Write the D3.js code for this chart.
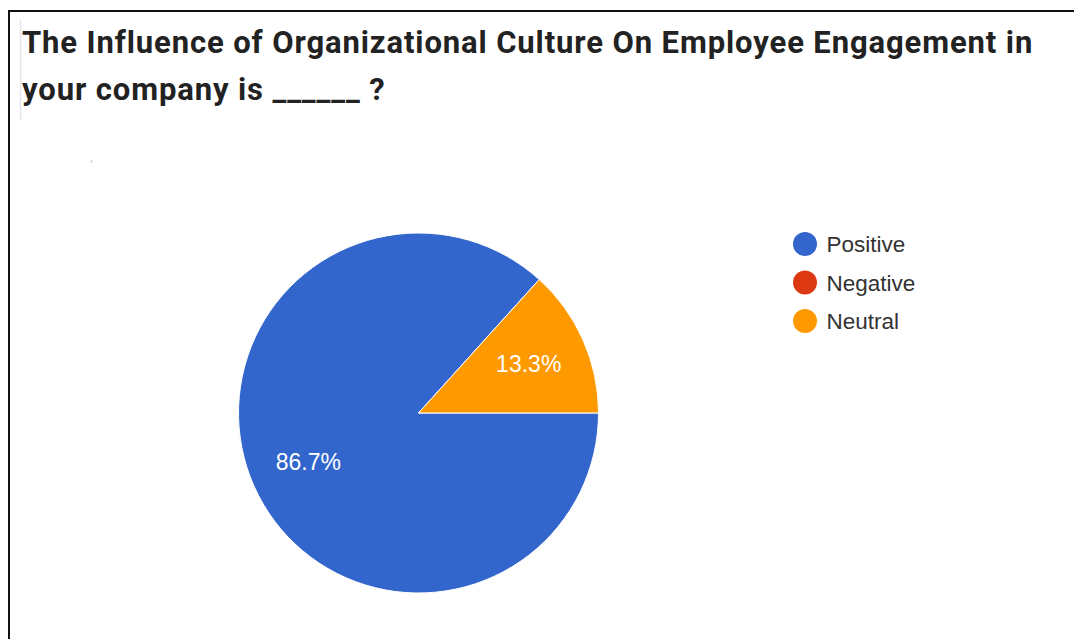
<!DOCTYPE html>
<html>
<head>
<meta charset="utf-8">
<script src="https://cdn.jsdelivr.net/npm/d3@7"></script>
<style>
  html, body { margin: 0; padding: 0; background: #fff; }
  svg { display: block; }
</style>
</head>
<body>
<svg id="chart" width="1074" height="639"></svg>
<script>
// Survey responses
const categories = ["Positive", "Negative", "Neutral"];
const shares = [86.7, 0, 13.3];
const sliceLabels = ["86.7%", "", "13.3%"];
const colors = ["#3366cc", "#dc3912", "#ff9900"];
const titleLines = [
  "The Influence of Organizational Culture On Employee Engagement in",
  "your company is ______ ?"
];

const svg = d3.select("#chart");

// Frame: heavy rule along the top and left edge
svg.append("line").attr("x1", 8).attr("x2", 1074).attr("y1", 11).attr("y2", 11)
  .attr("stroke", "#111").attr("stroke-width", 2);
svg.append("line").attr("x1", 9).attr("x2", 9).attr("y1", 10).attr("y2", 639)
  .attr("stroke", "#111").attr("stroke-width", 2);
// faint caret line beside the title
svg.append("line").attr("x1", 20.5).attr("x2", 20.5).attr("y1", 20).attr("y2", 120)
  .attr("stroke", "#e4e6ee").attr("stroke-width", 1.5);
// tiny speck below the title
svg.append("circle").attr("cx", 91.5).attr("cy", 161.5).attr("r", 1.3)
  .attr("fill", "#d8d8d8");

// Title
const titleText = svg.append("g").selectAll("text").data(titleLines).join("text")
  .attr("x", 22)
  .attr("y", (d, i) => 53 + i * 47)
  .attr("font-family", "Roboto, 'Noto Sans', sans-serif")
  .attr("font-weight", "bold")
  .attr("font-size", 31)
  .attr("fill", "#222")
  .text(d => d);
// spread the first line so it runs to the right-hand margin
const firstWidth = titleText.node().getComputedTextLength();
const spacing = (1010 - firstWidth) / (titleLines[0].length - 1);
titleText.attr("letter-spacing", spacing);

// Pie
const cx = 418.5, cy = 413, r = 180;
const pie = d3.pie().sort(null).value(d => d)
  .startAngle(Math.PI / 2).endAngle(Math.PI / 2 + 2 * Math.PI);
const arcs = pie(shares);
const arc = d3.arc().innerRadius(0).outerRadius(r);
const labelArc = d3.arc().innerRadius(r * 0.67).outerRadius(r * 0.67);

const g = svg.append("g").attr("transform", `translate(${cx},${cy})`);
g.selectAll("path").data(arcs).join("path")
  .attr("d", arc)
  .attr("fill", (d, i) => colors[i])
  .attr("stroke", d => d.value > 0 ? "#fff" : "none")
  .attr("stroke-width", 1);

g.selectAll("text").data(arcs).join("text")
  .attr("transform", d => `translate(${labelArc.centroid(d)})`)
  .attr("text-anchor", "middle")
  .attr("dy", "0.36em")
  .attr("font-family", "Arial, 'Liberation Sans', sans-serif")
  .attr("font-size", 23)
  .attr("fill", "#fff")
  .text((d, i) => sliceLabels[i]);

// Legend
const legend = svg.append("g").attr("transform", "translate(805,244)");
const items = legend.selectAll("g").data(categories).join("g")
  .attr("transform", (d, i) => `translate(0,${i * 38.5})`);
items.append("circle").attr("r", 12).attr("fill", (d, i) => colors[i]);
items.append("text")
  .attr("x", 21.5)
  .attr("dy", "0.36em")
  .attr("font-family", "Arial, 'Liberation Sans', sans-serif")
  .attr("font-size", 22.5)
  .attr("fill", "#333")
  .text(d => d);
</script>
</body>
</html>
